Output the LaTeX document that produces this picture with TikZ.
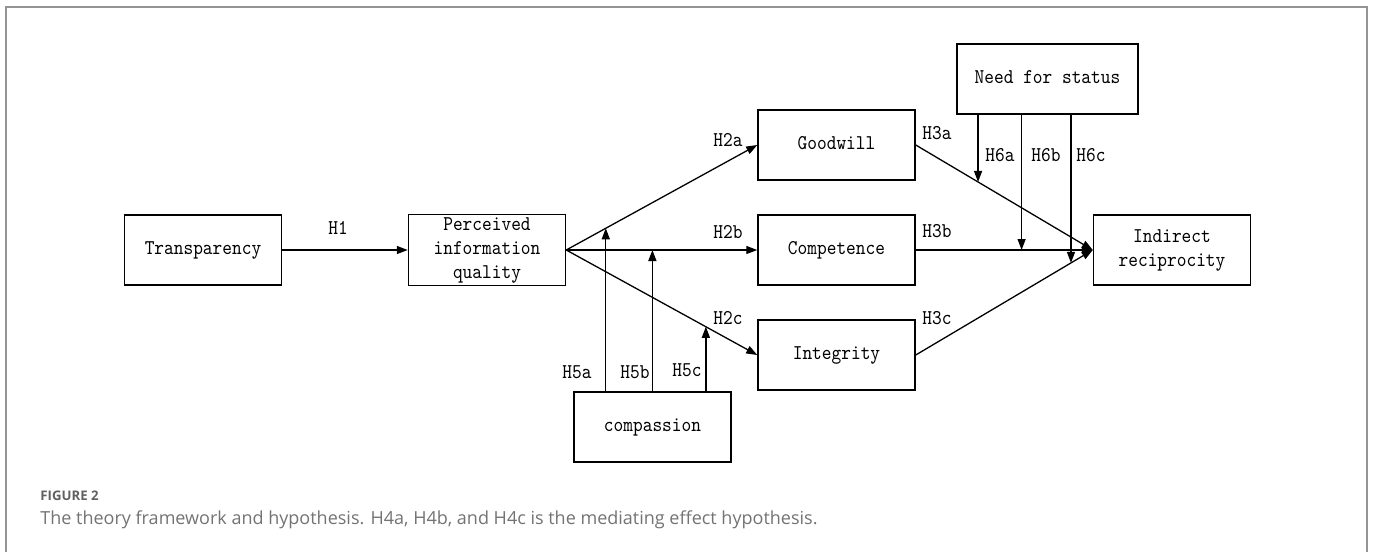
\documentclass[tikz,border=0pt]{standalone}
\usepackage{graphicx}
\usepackage{fontspec}
\newfontfamily\capfont{Open Sans}
\usetikzlibrary{arrows.meta,calc}
\newcommand{\dtxt}[1]{\scalebox{0.88}[1]{\fontsize{10.5}{11.9}\selectfont\ttfamily\begin{tabular}{@{}c@{}}#1\end{tabular}}}
\begin{document}
\begin{tikzpicture}[x=0.5pt,y=-0.5pt,
  box/.style={draw,line width=0.75pt,minimum width=78.5pt,minimum height=35pt,inner sep=0pt,align=center},
  lab/.style={inner sep=0pt},
  arr/.style={line width=0.65pt,-{Triangle[length=5.5pt,width=4pt]}},
  frame/.style={line width=1pt,draw=black!42}]
\useasboundingbox (0,0) rectangle (1373,552);
\draw[frame] (6,560) -- (6,7) -- (1367,7) -- (1367,560);
% nodes
\node[box] (T) at (203,250) {\dtxt{Transparency}};
\node[box] (P) at (487,250) {\dtxt{Perceived\\information\\quality}};
\node[box] (G) at (836.5,145) {\dtxt{Goodwill}};
\node[box] (C) at (836.5,250) {\dtxt{Competence}};
\node[box] (I) at (836.5,355) {\dtxt{Integrity}};
\node[box,minimum width=90.5pt] (N) at (1047.5,79) {\dtxt{Need for status}};
\node[box] (R) at (1172,250) {\dtxt{Indirect\\reciprocity}};
\node[box] (CP) at (652.5,427) {\dtxt{compassion}};
% main paths
\draw[arr] (T.east) -- (P.west);
\draw[arr] (P.east) -- (G.west);
\draw[arr] (P.east) -- (C.west);
\draw[arr] (P.east) -- (I.west);
\draw[arr] (G.east) -- (R.west);
\draw[arr] (C.east) -- (R.west);
\draw[arr] (I.east) -- (R.west);
% moderation points
\coordinate (m5a) at ($(P.east)!0.207!(G.west)$);
\coordinate (m5b) at ($(P.east)!0.451!(C.west)$);
\coordinate (m5c) at ($(P.east)!0.731!(I.west)$);
\coordinate (m6a) at ($(G.east)!0.352!(R.west)$);
\coordinate (m6b) at ($(C.east)!0.598!(R.west)$);
\coordinate (m6c) at ($(I.east)!0.877!(R.west)$);
\draw[arr] (CP.north -| m5a) -- (m5a);
\draw[arr] (CP.north -| m5b) -- (m5b);
\draw[arr] (CP.north -| m5c) -- (m5c);
\draw[arr] (N.south -| m6a) -- (m6a);
\draw[arr] (N.south -| m6b) -- (m6b);
\draw[arr] (N.south -| m6c) -- (m6c);
% labels
\node[lab] (l1) at (338,230) {\dtxt{H1}};
\node[lab] (l2a) at (728,142) {\dtxt{H2a}};
\node[lab] (l2b) at (728,234) {\dtxt{H2b}};
\node[lab] (l2c) at (728,320) {\dtxt{H2c}};
\node[lab] (l3a) at (937,135) {\dtxt{H3a}};
\node[lab] (l3b) at (937,233) {\dtxt{H3b}};
\node[lab] (l3c) at (937,320) {\dtxt{H3c}};
\node[lab] (l5a) at (577,374) {\dtxt{H5a}};
\node[lab] (l5b) at (635,374) {\dtxt{H5b}};
\node[lab] (l5c) at (687,372) {\dtxt{H5c}};
\node[lab] (l6a) at (1000,157) {\dtxt{H6a}};
\node[lab] (l6b) at (1046,157) {\dtxt{H6b}};
\node[lab] (l6c) at (1091,157) {\dtxt{H6c}};
% caption
\node[anchor=base west,inner sep=0pt,text=black!62] (fig) at (40,500) {\capfont\bfseries\fontsize{6.6}{7.5}\selectfont FIGURE 2};
\node[anchor=base west,inner sep=0pt,text=black!55] (cap) at (40,524) {\capfont\fontsize{9}{10.5}\selectfont The theory framework and hypothesis. H4a, H4b, and H4c is the mediating effect hypothesis.};
\end{tikzpicture}
\end{document}
